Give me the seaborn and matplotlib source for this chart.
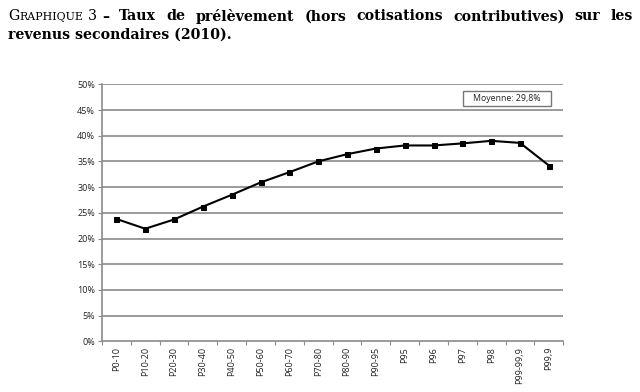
import matplotlib
matplotlib.use("Agg")
import matplotlib.pyplot as plt
import seaborn as sns
import pandas as pd
import numpy as np
from matplotlib.patches import Rectangle

categories = ["P0-10", "P10-20", "P20-30", "P30-40", "P40-50", "P50-60", "P60-70",
              "P70-80", "P80-90", "P90-95", "P95", "P96", "P97", "P98", "P99-99,9", "P99,9"]
taux = [23.8, 21.9, 23.7, 26.2, 28.5, 30.9, 32.9, 35.0, 36.4, 37.5, 38.1, 38.1, 38.5, 39.0, 38.6, 34.2]
ytick_values = [0, 5, 10, 15, 20, 25, 30, 35, 40, 45, 50]
ytick_labels = [f"{v}%" for v in ytick_values]
moyenne_label = "Moyenne: 29,8%"
title_prefix_cap = "G"
title_prefix_small = "RAPHIQUE"
title_number = "3"
title_line1 = "– Taux de prélèvement (hors cotisations contributives) sur les"
title_line2 = "revenus secondaires (2010)."

df = pd.DataFrame({"cat": categories, "taux": taux})

sns.set_theme(style="white")
plt.rcParams["font.family"] = ["Open Sans", "DejaVu Sans"]

fig = plt.figure(figsize=(6.4, 3.92), dpi=100)
W, H = 640, 392
ax = fig.add_axes([102 / W, 1 - 341.3 / H, (563.3 - 102) / W, (341.3 - 84.3) / H])

grid_c = "#8a8a8a"
for v in ytick_values[1:]:
    ax.axhline(v, color=grid_c, lw=1.2, zorder=1)

sns.lineplot(data=df, x="cat", y="taux", sort=False, ax=ax, color="black", lw=1.5,
             marker="s", markersize=3.6, markeredgecolor="black", zorder=3)

ax.set_xlim(-0.5, len(categories) - 0.5)
ax.set_ylim(0, 50)
ax.set_xlabel("")
ax.set_ylabel("")
ax.set_yticks(ytick_values)
ax.set_yticklabels(ytick_labels, fontsize=6.5, color="#222222")
ax.set_xticks(range(len(categories)))
ax.set_xticklabels(categories, rotation=90, fontsize=6.5, color="#222222")
ax.set_xticks(np.arange(-0.5, len(categories), 1.0), minor=True)
ax.tick_params(axis="x", which="major", length=0, pad=4)
ax.tick_params(axis="x", which="minor", length=3, width=0.8, color=grid_c, bottom=True)
ax.tick_params(axis="y", which="major", length=3, width=0.8, color=grid_c, left=True, pad=2)
for s in ["top", "right"]:
    ax.spines[s].set_visible(False)
for s in ["left", "bottom"]:
    ax.spines[s].set_color(grid_c)
    ax.spines[s].set_linewidth(1.2)

# Average box
bx0, by0, bx1, by1 = 463, 90.7, 551, 106
fig.patches.append(Rectangle((bx0 / W, 1 - by1 / H), (bx1 - bx0) / W, (by1 - by0) / H,
                             transform=fig.transFigure, facecolor="white",
                             edgecolor="#777777", lw=1.0, zorder=5))
fig.text((bx0 + bx1) / 2 / W, 1 - (by0 + by1) / 2 / H, moyenne_label, ha="center",
         va="center", fontsize=6.3, color="#222222", zorder=6)

# Title (small caps prefix, justified first line)
serif = ["DejaVu Serif"]
renderer = fig.canvas.get_renderer()

def width_of(s, size, weight):
    t = fig.text(0, 0, s, fontsize=size, fontweight=weight, family=serif)
    w = t.get_window_extent(renderer=renderer).width
    t.remove()
    return w

def put(x_px, y_px, s, size, weight):
    fig.text(x_px / W, 1 - y_px / H, s, fontsize=size, fontweight=weight,
             family=serif, ha="left", va="baseline", color="black")
    return width_of(s, size, weight)

ref = 10.0
fs = ref * (232 - 8) / width_of(title_line2, ref, "bold")

y1, y2 = 20.5, 38.5
x = 8
x += put(x, y1, title_prefix_cap, fs, "normal")
x += put(x, y1, title_prefix_small, fs * 0.78, "normal")
space = width_of("a b", fs, "bold") - width_of("ab", fs, "bold")
x += space
x += put(x, y1, title_number, fs, "normal") + space
words = title_line1.split(" ")
widths = [width_of(wd, fs, "bold") for wd in words]
gap = (633 - x - sum(widths)) / (len(words) - 1)
for wd, ww in zip(words, widths):
    put(x, y1, wd, fs, "bold")
    x += ww + gap
put(8, y2, title_line2, fs, "bold")

fig.savefig("out.png", dpi=100)
